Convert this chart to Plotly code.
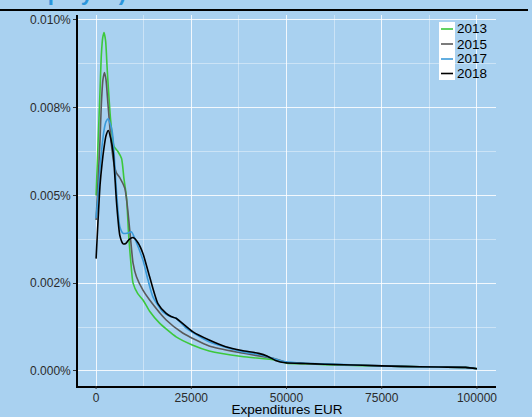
import plotly.graph_objects as go

# ---- data (density, in percent per EUR) ----
years = ["2013", "2015", "2017", "2018"]
colors = ["#3cc83c", "#5a5a5a", "#3a9ad9", "#000000"]

x_2013 = [0, 520, 1040, 1380, 1750, 2080, 2500, 2940, 3830, 4690, 5730, 6690, 7290, 7990, 8590, 9300, 9710,
          10940, 12320, 14060, 16670, 21010, 25260, 29690, 38280, 47130, 50000, 55000, 60000, 70000, 80000,
          90000, 97000, 100000]
y_2013 = [5.0, 6.5, 8.0, 9.0, 9.5, 9.64, 9.4, 8.55, 7.13, 6.4, 6.25, 6.05, 5.5, 4.94, 3.8, 2.87, 2.5,
          2.2, 2.02, 1.7, 1.36, 0.97, 0.74, 0.57, 0.41, 0.31, 0.22, 0.2, 0.18, 0.15, 0.13,
          0.11, 0.1, 0.06]

x_2015 = [0, 520, 1040, 1380, 1800, 2200, 2600, 3120, 3990, 4700, 5400, 6250, 7550, 8200, 8850, 9710, 10600,
          12300, 14060, 18410, 22740, 29690, 38280, 47130, 50000, 55000, 60000, 70000, 80000, 90000, 97000,
          100000]
y_2015 = [4.3, 5.4, 6.6, 7.6, 8.3, 8.5, 8.3, 7.6, 6.48, 5.9, 5.63, 5.5, 5.2, 4.7, 4.0, 3.07, 2.68,
          2.3, 2.02, 1.45, 1.08, 0.71, 0.51, 0.34, 0.24, 0.21, 0.19, 0.16, 0.13, 0.11, 0.1,
          0.06]

x_2017 = [0, 520, 1040, 1560, 2080, 2600, 3200, 3700, 4170, 4500, 5390, 6250, 7110, 8070, 9300, 10420,
          12320, 13600, 14920, 17530, 19500, 21010, 23620, 29690, 38280, 43490, 49740, 55000, 60000, 70000,
          80000, 90000, 97000, 100000]
y_2017 = [4.35, 5.0, 5.8, 6.4, 6.85, 7.1, 7.18, 7.05, 6.85, 6.56, 5.06, 4.1, 3.92, 3.92, 3.96, 3.7,
          3.15, 2.6, 2.11, 1.68, 1.55, 1.5, 1.22, 0.83, 0.55, 0.45, 0.26, 0.22, 0.2, 0.16,
          0.13, 0.11, 0.1, 0.06]

x_2018 = [0, 520, 1040, 1560, 2080, 2600, 3200, 3900, 4500, 5390, 6250, 7110, 7800, 8700, 9710, 11000,
          12320, 14060, 16230, 18410, 19700, 21010, 25350, 29690, 34040, 38280, 42710, 45000, 47100, 49740,
          55000, 60000, 70000, 80000, 90000, 97000, 100000]
y_2018 = [3.2, 4.3, 5.3, 5.9, 6.36, 6.7, 6.85, 6.6, 6.2, 4.77, 3.85, 3.62, 3.63, 3.75, 3.8, 3.65,
          3.34, 2.68, 1.92, 1.64, 1.55, 1.5, 1.12, 0.88, 0.69, 0.58, 0.5, 0.42, 0.3, 0.23,
          0.21, 0.19, 0.16, 0.13, 0.11, 0.1, 0.06]

x_ticks = [0, 25000, 50000, 75000, 100000]
x_ticklabels = ["0", "25000", "50000", "75000", "100000"]
y_ticks = [0, 0.0025, 0.005, 0.0075, 0.01]
y_ticklabels = ["0.000%", "0.002%", "0.005%", "0.008%", "0.010%"]

series_x = [x_2013, x_2015, x_2017, x_2018]
series_y = [y_2013, y_2015, y_2017, y_2018]

BG = "#a9d1f0"
FONT = "Liberation Sans, Arial, sans-serif"

fig = go.Figure()
for yr, col, xs, ys in zip(years, colors, series_x, series_y):
    fig.add_trace(go.Scatter(
        x=xs, y=[v / 1000 for v in ys], mode="lines", name=yr,
        line=dict(color=col, width=1.6, shape="spline", smoothing=0.6),
        showlegend=False, hoverinfo="skip"))

# plot area geometry in pixels
W, H = 532, 417
L, R, T, B = 78, 36, 15, 31
pw, ph = W - L - R, H - T - B

def px(xp):
    return (xp - L) / pw

def py(yp):
    return (H - B - yp) / ph

shapes = []
annotations = []
# title rule
shapes.append(dict(type="line", xref="paper", yref="paper", x0=px(0), x1=px(528), y0=py(10), y1=py(10),
                   line=dict(color="black", width=2)))
annotations.append(dict(text="<b>employed)</b>", xref="paper", yref="paper", x=px(14), y=py(7),
                        xanchor="left", yanchor="bottom", showarrow=False,
                        font=dict(family=FONT, size=22, color="#2a95dc")))
# x-axis tick marks (below the axis line)
for xv in x_ticks:
    shapes.append(dict(type="line", xref="x", yref="paper", x0=xv, x1=xv, y0=py(386), y1=py(389),
                       line=dict(color="#333333", width=1)))
# manual legend
shapes.append(dict(type="rect", xref="paper", yref="paper", x0=px(439), x1=px(455), y0=py(80), y1=py(22),
                   fillcolor="white", line=dict(width=0), layer="above"))
leg_y = [29, 44, 59, 73.5]
for yr, col, yy in zip(years, colors, leg_y):
    shapes.append(dict(type="line", xref="paper", yref="paper", x0=px(441), x1=px(453), y0=py(yy), y1=py(yy),
                       line=dict(color=col, width=1.6), layer="above"))
    annotations.append(dict(text=yr, xref="paper", yref="paper", x=px(454.5), y=py(yy),
                            xanchor="left", yanchor="middle", showarrow=False,
                            font=dict(family=FONT, size=13.5, color="black")))

fig.update_layout(
    width=W, height=H,
    margin=dict(l=L, r=R, t=T, b=B, pad=0, autoexpand=False),
    paper_bgcolor=BG, plot_bgcolor=BG,
    font=dict(family=FONT, size=12, color="#2b2b2b"),
    shapes=shapes, annotations=annotations,
    showlegend=False,
)
fig.update_xaxes(
    range=[-4750, 105000], tickvals=x_ticks, ticktext=x_ticklabels, automargin=False,
    showline=True, linecolor="black", linewidth=1.6,
    ticks="",
    showgrid=True, gridcolor="rgba(255,255,255,0.85)", gridwidth=1,
    minor=dict(tickvals=[12500, 37500, 62500, 87500], showgrid=True,
               gridcolor="rgba(255,255,255,0.4)", gridwidth=1),
    zeroline=False,
    title=dict(text="Expenditures EUR", font=dict(family=FONT, size=13.5, color="black"), standoff=4),
    tickfont=dict(family=FONT, size=12, color="#2b2b2b"),
)
fig.update_yaxes(
    range=[-0.00043, 0.01014], tickvals=y_ticks, ticktext=y_ticklabels, automargin=False,
    showline=True, linecolor="black", linewidth=1.6,
    ticks="outside", ticklen=3, tickcolor="#333333",
    showgrid=True, gridcolor="rgba(255,255,255,0.85)", gridwidth=1,
    minor=dict(tickvals=[0.00125, 0.00375, 0.00625, 0.00875], showgrid=True,
               gridcolor="rgba(255,255,255,0.4)", gridwidth=1),
    zeroline=False,
    tickfont=dict(family=FONT, size=12, color="#2b2b2b"),
)

fig.write_html("out.html", config={"displayModeBar": False},
               post_script="document.body.style.margin='0';document.body.style.background='%s';" % BG)
